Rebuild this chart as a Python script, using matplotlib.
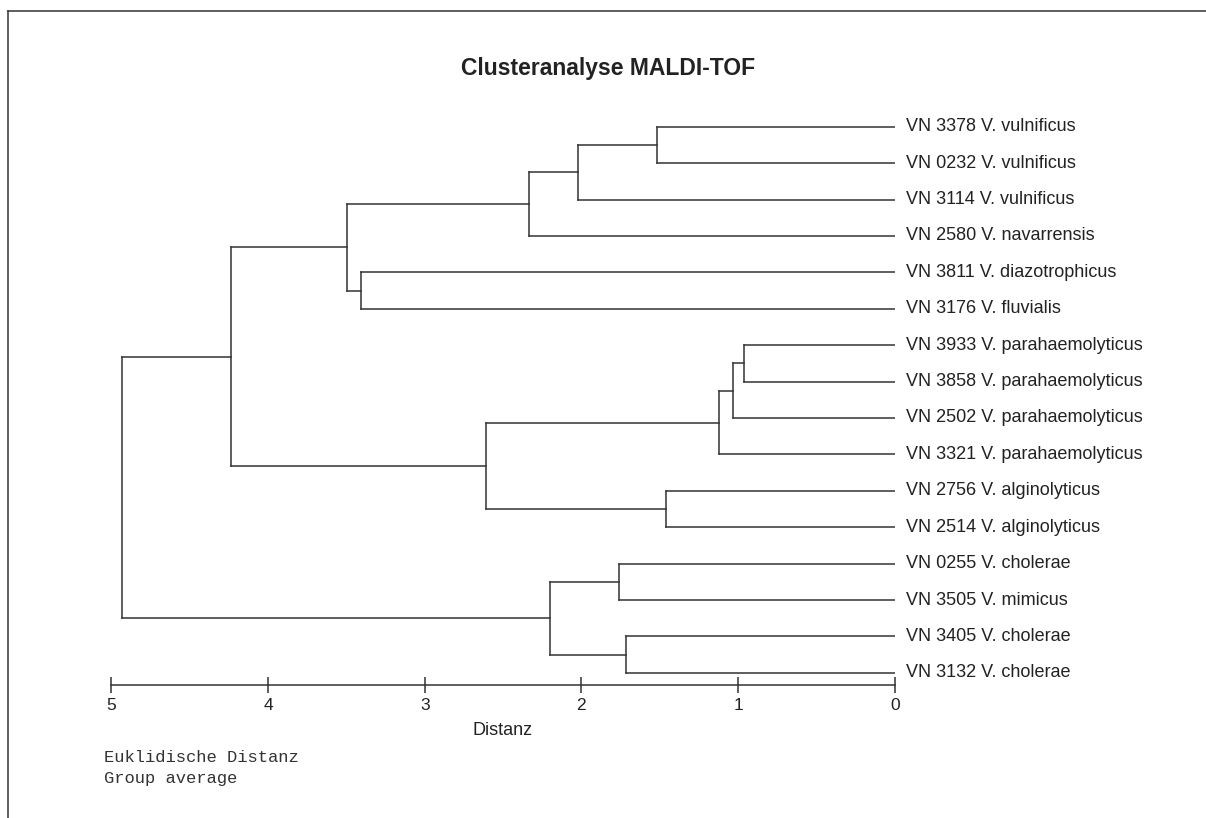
import matplotlib.pyplot as plt
from matplotlib.lines import Line2D

# leaves from top to bottom
leaf_labels = ['VN 3378 V. vulnificus', 'VN 0232 V. vulnificus', 'VN 3114 V. vulnificus',
               'VN 2580 V. navarrensis', 'VN 3811 V. diazotrophicus', 'VN 3176 V. fluvialis',
               'VN 3933 V. parahaemolyticus', 'VN 3858 V. parahaemolyticus',
               'VN 2502 V. parahaemolyticus', 'VN 3321 V. parahaemolyticus',
               'VN 2756 V. alginolyticus', 'VN 2514 V. alginolyticus',
               'VN 0255 V. cholerae', 'VN 3505 V. mimicus', 'VN 3405 V. cholerae',
               'VN 3132 V. cholerae']

# merges, linkage style: new cluster ids start at 16
merge_left = [6, 16, 17, 10, 0, 14, 12, 20, 22, 23, 18, 4, 25, 28, 29]
merge_right = [7, 8, 9, 11, 1, 15, 13, 2, 21, 3, 19, 5, 27, 26, 24]
merge_height = [0.964, 1.03, 1.122, 1.462, 1.518, 1.715, 1.762, 2.024, 2.202,
                2.334, 2.607, 3.405, 3.498, 4.238, 4.934]

x_ticks = [5, 4, 3, 2, 1, 0]

W, H = 1206, 818
line_col = '#333333'
txt_col = '#222222'

plt.rcParams['font.family'] = ['Liberation Sans', 'DejaVu Sans']
fig = plt.figure(figsize=(W / 100, H / 100), dpi=100)

# axes placed in pixels: d=5 at x=111, d=0 at x=895, axis line at y=684.5
x0, x1 = 111.3, 894.8
y_top, y_bot = 90.3, 684.5
ax = fig.add_axes([x0 / W, 1 - y_bot / H, (x1 - x0) / W, (y_bot - y_top) / H])

n = len(leaf_labels)
ypos = {i: float(i) for i in range(n)}
xpos = {i: 0.0 for i in range(n)}
for k, (a, b, h) in enumerate(zip(merge_left, merge_right, merge_height)):
  cid = n + k
  ya, yb = ypos[a], ypos[b]
  ax.plot([h, h], [ya, yb], color=line_col, lw=1.1, solid_capstyle='projecting')
  ax.plot([xpos[a], h], [ya, ya], color=line_col, lw=1.1, solid_capstyle='projecting')
  ax.plot([xpos[b], h], [yb, yb], color=line_col, lw=1.1, solid_capstyle='projecting')
  ypos[cid] = (ya + yb) / 2
  xpos[cid] = h

for i, lab in enumerate(leaf_labels):
  ax.annotate(lab, (0, i), xytext=(8, 0), textcoords='offset points',
              va='center', ha='left', fontsize=13, color=txt_col,
              annotation_clip=False)

ax.set_xlim(5, 0)
ax.set_ylim(15.32, -1)
for s in ['left', 'right', 'top']:
  ax.spines[s].set_visible(False)
ax.spines['bottom'].set_color(line_col)
ax.spines['bottom'].set_linewidth(1.1)
ax.set_yticks([])
ax.set_xticks(x_ticks)
ax.set_xticklabels([str(t) for t in x_ticks])
ax.tick_params(axis='x', direction='inout', length=11.5, width=1.1, color=line_col,
               labelsize=12.5, labelcolor=txt_col, pad=4)
ax.set_xlabel('Distanz', fontsize=13, color=txt_col, labelpad=6.5)

fig.text(608 / W, 1 - 68 / H, 'Clusteranalyse MALDI-TOF', ha='center', va='center',
         fontsize=16.5, fontweight='bold', color=txt_col)
fig.text(104 / W, 1 - 758 / H, 'Euklidische Distanz', ha='left', va='center',
         fontsize=12.3, family='Liberation Mono', color='#333333')
fig.text(104 / W, 1 - 778 / H, 'Group average', ha='left', va='center',
         fontsize=12.3, family='Liberation Mono', color='#333333')

# frame (top and left edges)
fig.add_artist(Line2D([8 / W, 1], [1 - 10.5 / H] * 2, color=line_col, lw=1.1,
                      transform=fig.transFigure))
fig.add_artist(Line2D([8 / W, 8 / W], [0, 1 - 10.5 / H], color=line_col, lw=1.1,
                      transform=fig.transFigure))

fig.savefig('out.png', dpi=100)
plt.close(fig)
